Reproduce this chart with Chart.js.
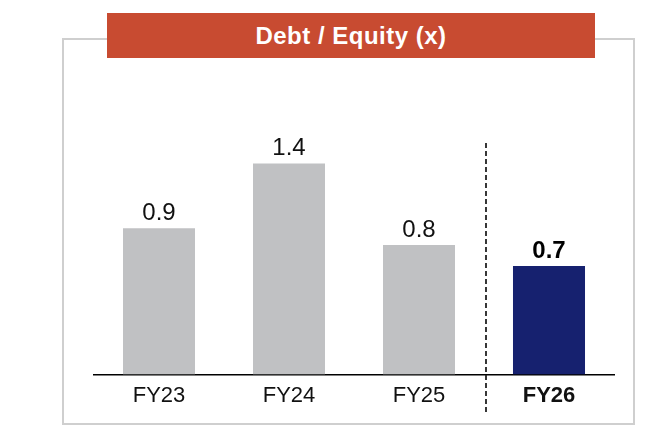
<!DOCTYPE html>
<html>
<head>
<meta charset="utf-8">
<script src="https://cdn.jsdelivr.net/npm/chart.js@4"></script>
<style>
  html, body { margin: 0; padding: 0; background: #fff; }
  #wrap { position: relative; width: 662px; height: 442px; }
  #frame {
    position: absolute; left: 62px; top: 38px; width: 569px; height: 383px;
    border: 2px solid #cfcfcf;
  }
  #banner {
    position: absolute; left: 107px; top: 13px; width: 488px; height: 45px;
    background: #c84b31; color: #fff;
    font: bold 24px "Liberation Sans", Arial, sans-serif; letter-spacing: 0.5px;
    line-height: 45px; text-align: center;
  }
  #chart { position: absolute; left: 0; top: 0; }
</style>
</head>
<body>
<div id="wrap">
  <div id="frame"></div>
  <canvas id="chart" width="662" height="442"></canvas>
  <div id="banner">Debt / Equity (x)</div>
</div>
<script>
// dados
const categories = ['FY23', 'FY24', 'FY25', 'FY26'];
const debtEquity = [0.97, 1.40, 0.86, 0.72];
const valueLabels = ['0.9', '1.4', '0.8', '0.7'];
const highlightIndex = 3;

// rotulos de valor acima das barras
const valueLabelPlugin = {
  id: 'valueLabels',
  afterDatasetsDraw(chart) {
    const ctx = chart.ctx;
    const meta = chart.getDatasetMeta(0);
    ctx.save();
    ctx.textAlign = 'center';
    ctx.textBaseline = 'alphabetic';
    meta.data.forEach((bar, i) => {
      const bold = i === highlightIndex;
      ctx.font = (bold ? 'bold ' : '') + '24px "Liberation Sans", Arial, sans-serif';
      ctx.fillStyle = bold ? '#000' : '#111';
      ctx.fillText(valueLabels[i], bar.x, bar.y - 8);
    });
    ctx.restore();
  }
};

// linha tracejada entre FY25 e FY26
const dividerPlugin = {
  id: 'divider',
  afterDatasetsDraw(chart) {
    const ctx = chart.ctx;
    const x = chart.scales.x;
    const area = chart.chartArea;
    const px = (x.getPixelForValue(highlightIndex - 1) + x.getPixelForValue(highlightIndex)) / 2 + 2;
    ctx.save();
    ctx.strokeStyle = '#222';
    ctx.lineWidth = 1.8;
    ctx.setLineDash([5, 3]);
    ctx.beginPath();
    ctx.moveTo(px, area.top + 70);
    ctx.lineTo(px, area.bottom + 39);
    ctx.stroke();
    ctx.restore();
  }
};

new Chart(document.getElementById('chart'), {
  type: 'bar',
  data: {
    labels: categories,
    datasets: [{
      data: debtEquity,
      backgroundColor: ctx => ctx.dataIndex === highlightIndex ? '#16216f' : '#c0c1c3',
      borderWidth: 0,
      barPercentage: 0.554,
      categoryPercentage: 1
    }]
  },
  options: {
    responsive: false,
    animation: false,
    layout: { padding: { left: 94, right: 48, top: 73, bottom: 25 } },
    plugins: {
      legend: { display: false },
      tooltip: { enabled: false }
    },
    scales: {
      x: {
        grid: { display: false, drawTicks: false },
        border: { display: true, color: '#000', width: 1.5 },
        ticks: {
          padding: 8,
          color: '#111',
          font: ctx => ({
            family: '"Liberation Sans", Arial, sans-serif',
            size: 22,
            weight: ctx.index === highlightIndex ? 'bold' : 'normal'
          })
        }
      },
      y: {
        display: false,
        min: 0,
        max: 2
      }
    }
  },
  plugins: [valueLabelPlugin, dividerPlugin]
});
</script>
</body>
</html>
